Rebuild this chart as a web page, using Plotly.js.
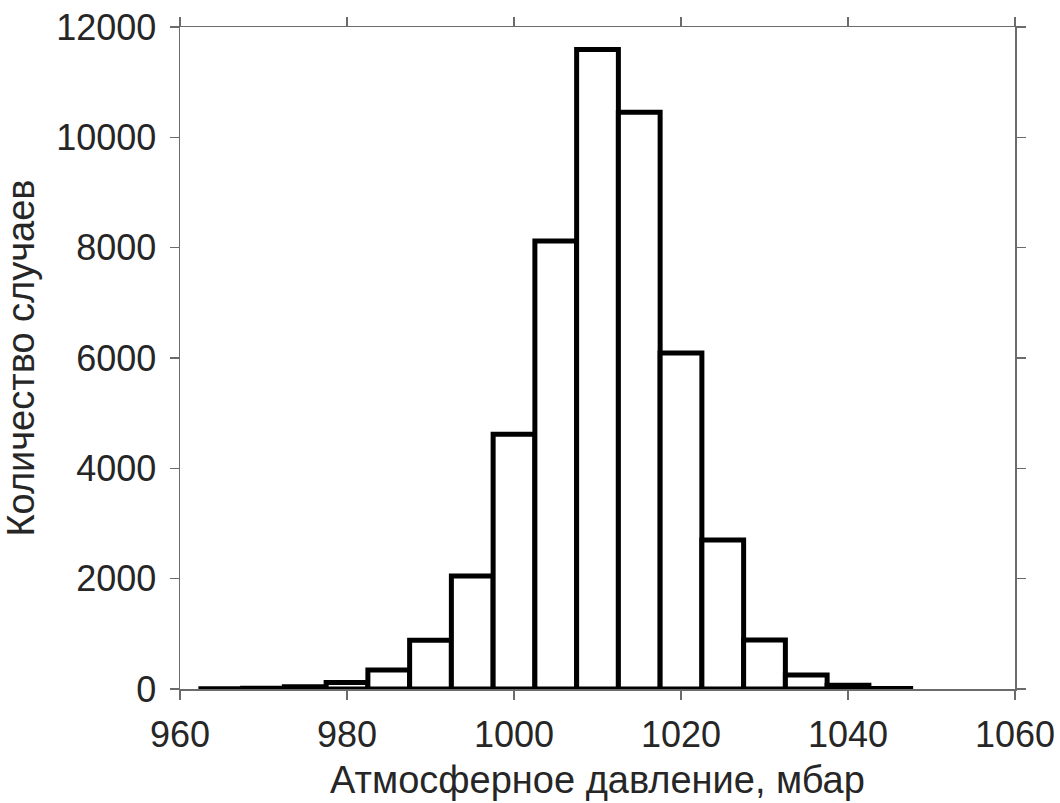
<!DOCTYPE html>
<html>
<head>
<meta charset="utf-8">
<script src="https://cdn.plot.ly/plotly-3.0.1.min.js"></script>
<style>html,body{margin:0;padding:0;background:#fff;}#chart{width:1060px;height:803px;}</style>
</head>
<body>
<div id="chart"></div>
<script>
const binCenters = [965, 970, 975, 980, 985, 990, 995, 1000, 1005, 1010, 1015, 1020, 1025, 1030, 1035, 1040, 1045];
const counts = [5, 15, 40, 120, 345, 885, 2050, 4620, 8120, 11590, 10455, 6090, 2700, 890, 255, 70, 10];
const xTicks = [960, 980, 1000, 1020, 1040, 1060];
const yTicks = [0, 2000, 4000, 6000, 8000, 10000, 12000];
const xLabel = 'Атмосферное давление, мбар';
const yLabel = 'Количество случаев';

const FONT = 'Liberation Sans, Arial, sans-serif';
const axisCommon = {
  showline: true, linecolor: '#6b6b6b', linewidth: 1.5,
  mirror: 'ticks', ticks: 'outside', ticklen: 9, tickwidth: 1.5, tickcolor: '#6b6b6b',
  showgrid: false, zeroline: false,
  tickfont: {family: FONT, size: 36, color: '#262626'}
};

const trace = {
  type: 'bar', x: binCenters, y: counts, width: 5,
  marker: {color: '#ffffff', line: {color: '#000000', width: 5}}
};

const layout = {
  width: 1060, height: 803,
  margin: {l: 180, r: 45, t: 27, b: 114},
  paper_bgcolor: '#fff', plot_bgcolor: '#fff',
  showlegend: false, bargap: 0,
  xaxis: Object.assign({}, axisCommon, {
    range: [960, 1060], tickvals: xTicks, ticktext: xTicks.map(String),
    ticklabelstandoff: 4,
    title: {text: xLabel, standoff: 12, font: {family: FONT, size: 38, color: '#262626'}}
  }),
  yaxis: Object.assign({}, axisCommon, {
    range: [0, 12000], tickvals: yTicks, ticktext: yTicks.map(String),
    ticklabelstandoff: 6,
    title: {text: yLabel, standoff: 16, font: {family: FONT, size: 38, color: '#262626'}}
  })
};

Plotly.newPlot('chart', [trace], layout, {displayModeBar: false, staticPlot: true});
</script>
</body>
</html>
